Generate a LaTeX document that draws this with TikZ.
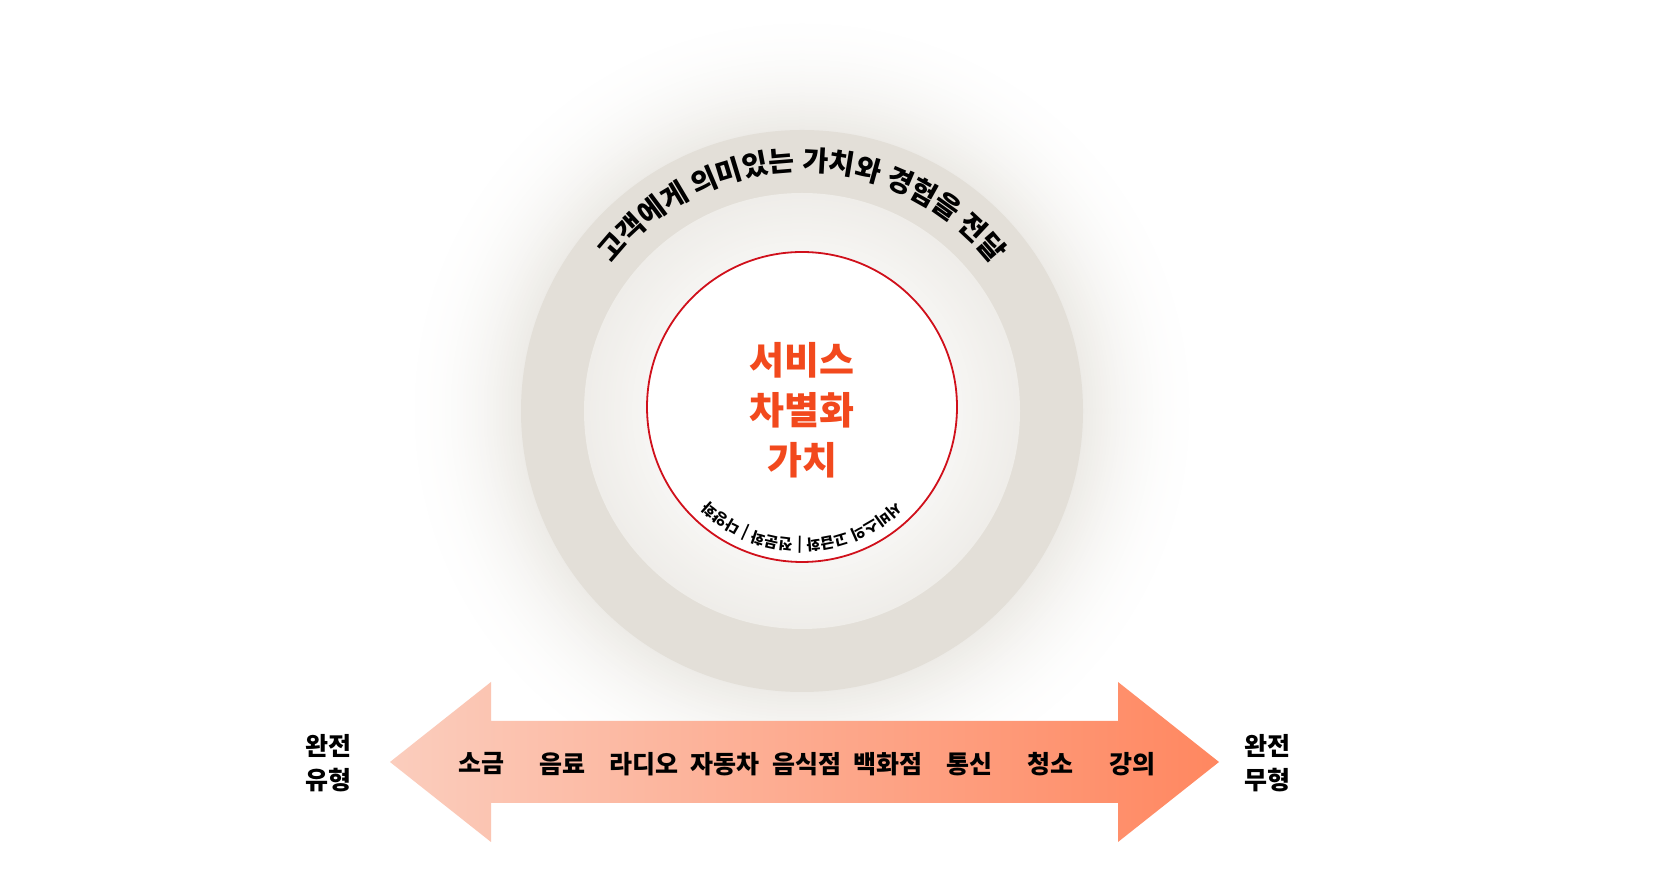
\documentclass[tikz,border=0pt]{standalone}
\usepackage{fontspec}
\setmainfont{Noto Sans CJK KR}
\usetikzlibrary{decorations.text}
\definecolor{ringc}{HTML}{E3DFD8}
\definecolor{glowa}{HTML}{EDEBE7}
\definecolor{diskedge}{HTML}{EFEDE9}
\definecolor{diskin}{HTML}{F6F5F3}
\definecolor{redc}{HTML}{D0101B}
\definecolor{titlec}{HTML}{F2491D}
\definecolor{arrowl}{HTML}{FBCDBD}
\definecolor{arrowr}{HTML}{FF8760}
\tikzset{
  lab/.style={text=black, font=\fontsize{25}{34}\selectfont\bfseries, inner sep=0pt},
  endlab/.style={lab, align=center},
}
\begin{document}
\begin{tikzpicture}[x=1pt,y=1pt]
\useasboundingbox (0,0) rectangle (1676,869);
\fill[white] (0,0) rectangle (1676,869);
\coordinate (c) at (802,458);
\coordinate (rc) at (802,462);
% soft glow
\foreach \k in {0,...,42}{
  \pgfmathsetmacro\rr{405-3*\k}
  \pgfmathsetmacro\pp{100*(\k/41)^2}
  \pgfmathsetmacro\pq{min(\pp,100)}
  \fill[glowa!\pq!white] (c) circle[radius=\rr];
}
\fill[ringc] (c) circle[radius=281];
% inner disk
\foreach \k in {0,...,20}{
  \pgfmathsetmacro\rr{218-3*\k}
  \pgfmathsetmacro\pp{100*\k/20}
  \fill[diskin!\pp!diskedge] (c) circle[radius=\rr];
}
\node[circle, draw=redc, line width=1.8pt, fill=white, minimum size=310pt, inner sep=0pt] (core) at (rc) {};
% top arc text
\path[decorate, decoration={text along path, text align=center,
  text={|\fontsize{28}{30}\selectfont\bfseries|고객에게 의미있는 가치와 경험을 전달}}]
  ([shift={(152:240)}]c) arc[start angle=152, end angle=28, radius=240];
% bottom inner arc text
\path[decorate, decoration={text along path, text align=center,
  text format delimiters={<}{>},
  text={<\fontsize{15}{16}\selectfont\bfseries>서비스의 고급화{\kern4pt}|{\kern4pt}전문화{\kern4pt}|{\kern4pt}다양화}}]
  ([shift={(-42:133)}]rc) arc[start angle=-42, end angle=-138, radius=133];
% title
\node[text=titlec, align=center, font=\fontsize{38}{50}\selectfont\bfseries] (title) at (802,459) {서비스\\차별화\\가치};
% arrow
\coordinate (ltip) at (390,107);
\coordinate (rtip) at (1219,107);
\shade[left color=arrowl, right color=arrowr]
  (ltip) -- (491,187) -- (491,148) -- (1118,148) -- (1118,187) -- (rtip)
  -- (1118,27) -- (1118,66) -- (491,66) -- (491,27) -- cycle;
% labels
\foreach \t [count=\i from 0] in {소금,음료,라디오,자동차,음식점,백화점,통신,청소,강의}
  \node[lab] (l\i) at (481+81.4*\i,105) {\t};
\node[endlab] (tangible) at (328,106) {완전\\유형};
\node[endlab] (intangible) at (1267,106) {완전\\무형};
\end{tikzpicture}
\end{document}
